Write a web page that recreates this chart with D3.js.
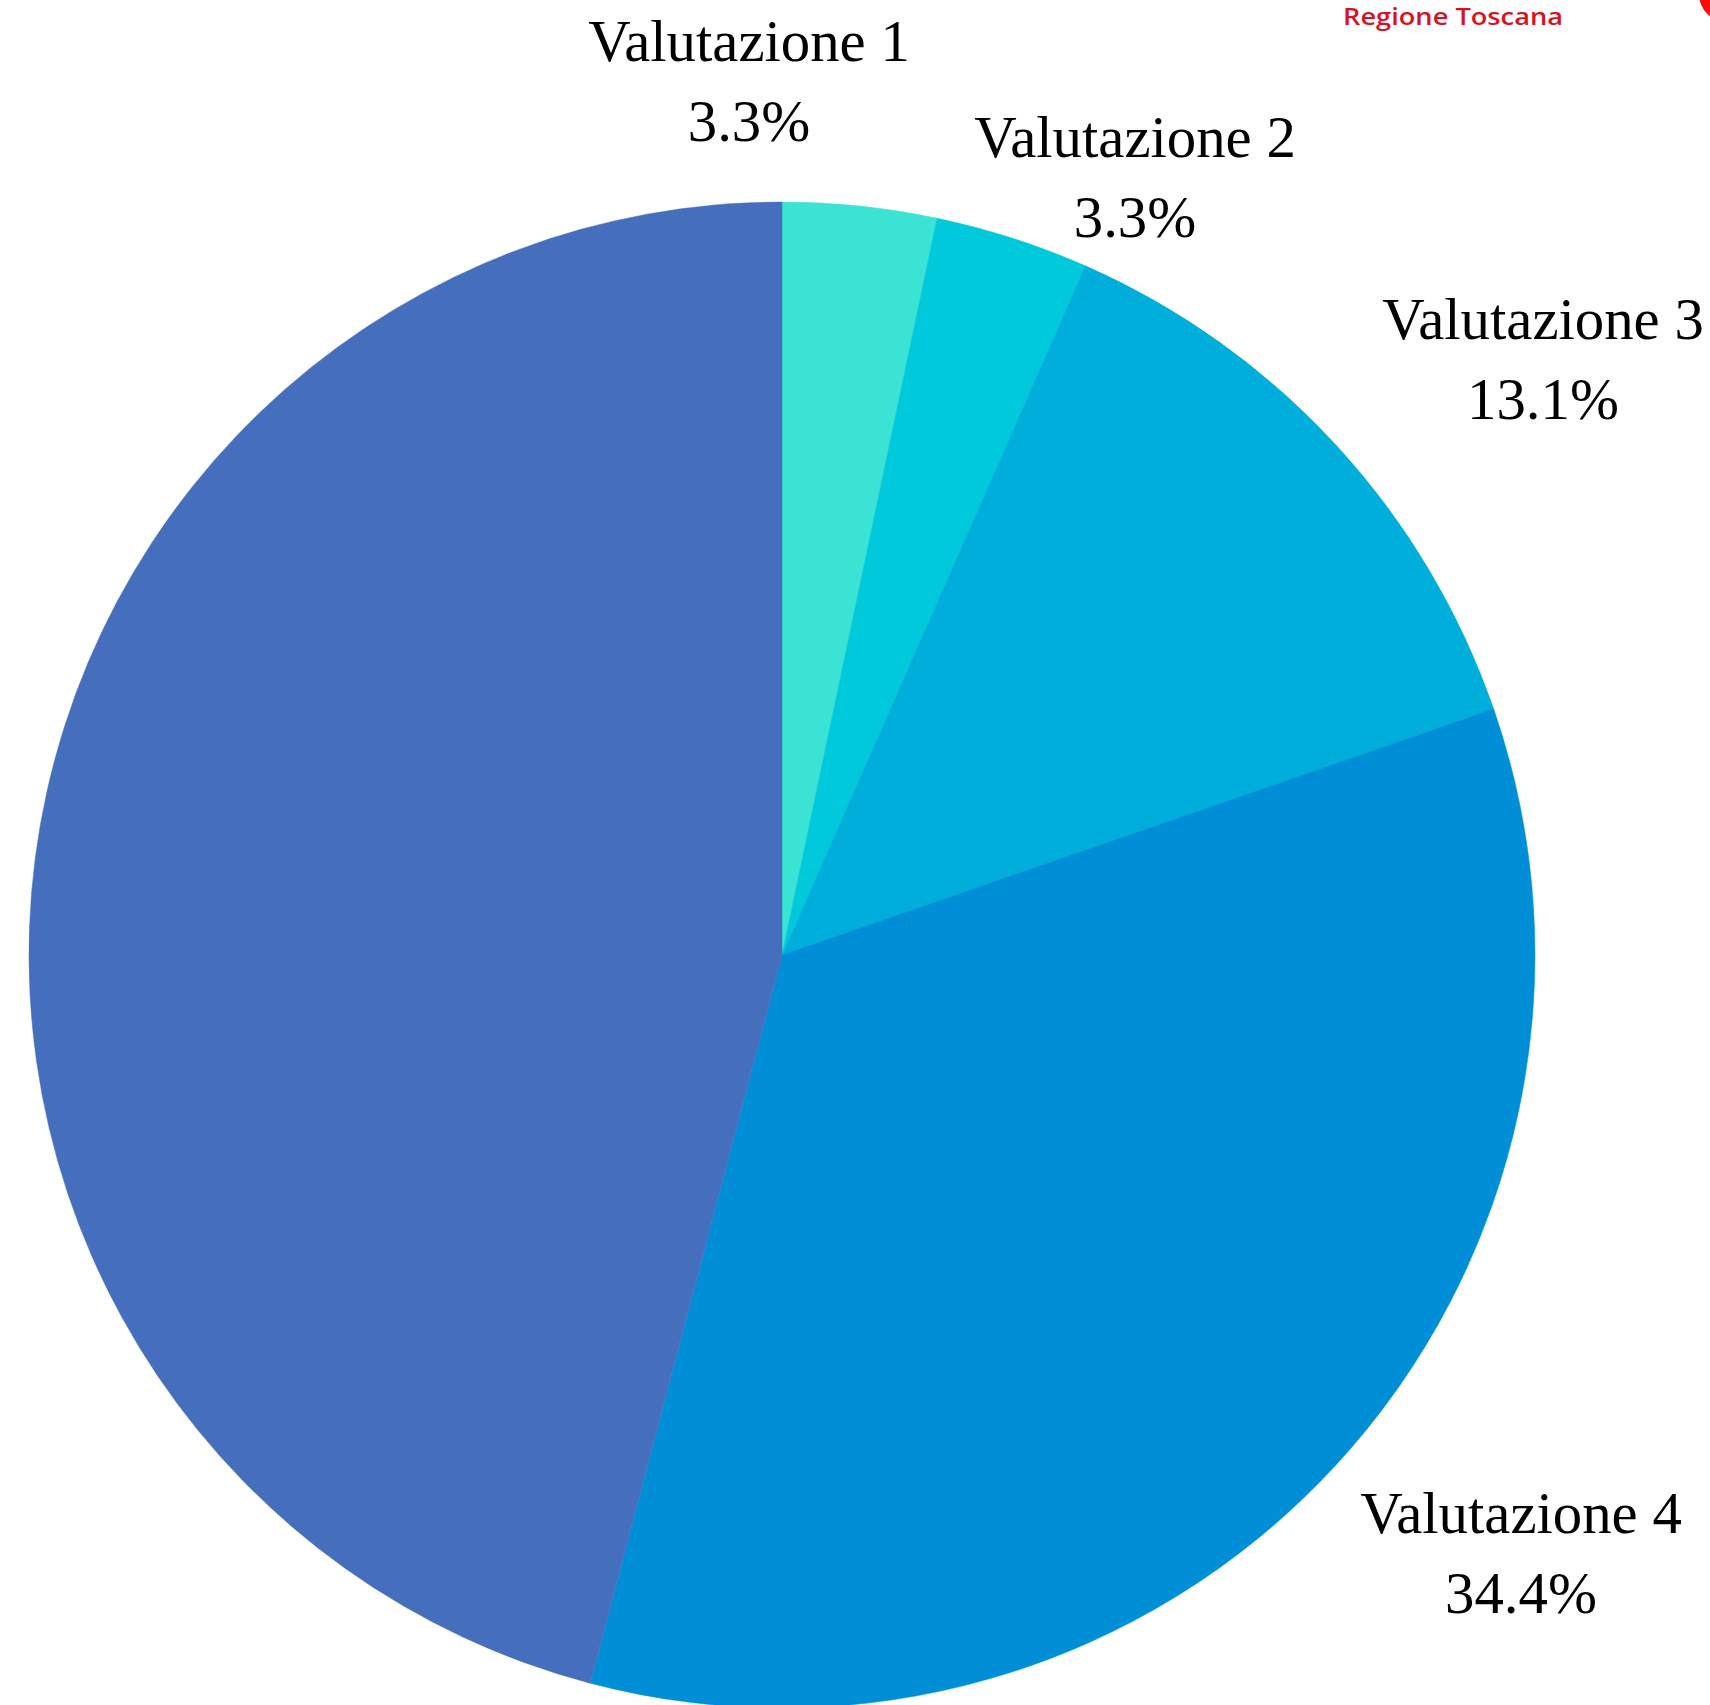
<!DOCTYPE html>
<html>
<head>
<meta charset="utf-8">
<script src="https://cdn.jsdelivr.net/npm/d3@7"></script>
<style>
  html, body { margin: 0; padding: 0; background: #fff; overflow: hidden; }
</style>
</head>
<body>
<div id="chart"></div>
<script>
// data
const categories = ['Valutazione 1', 'Valutazione 2', 'Valutazione 3', 'Valutazione 4', 'Valutazione 5'];
const shares = [3.3, 3.3, 13.1, 34.4, 45.9];
const sliceColors = ['#3BE3D4', '#00C9DB', '#00AEDC', '#008ED6', '#456FBD'];
// which slices carry a visible label (the 5th one falls outside the picture)
const labelled = [true, true, true, true, false];
// label anchor (centre x, first baseline y) for each labelled slice
const labelAnchors = [[749, 61], [1135, 157], [1543, 339], [1521, 1533]];

const width = 1710, height = 1705;
const cx = 782, cy = 955, radius = 753;

const svg = d3.select('#chart')
    .append('svg')
    .attr('width', width)
    .attr('height', height);

const graph = svg.append('g')
    .attr('transform', `translate(${cx}, ${cy})`);

const pie = d3.pie()
    .sort(null)
    .value(d => d.value);

const arc = d3.arc()
    .innerRadius(0)
    .outerRadius(radius);

const data = categories.map((c, i) => ({name: c, value: shares[i], color: sliceColors[i]}));
const arcs = pie(data);

graph.selectAll('path')
    .data(arcs)
    .enter()
    .append('path')
    .attr('d', arc)
    .attr('fill', d => d.data.color)
    .attr('stroke', d => d.data.color)
    .attr('stroke-width', 0.5);

// labels: name on one line, percentage below
const labels = svg.append('g').attr('class', 'labels');
let k = 0;
arcs.forEach((a, i) => {
    if (!labelled[i]) return;
    const [lx, ly] = labelAnchors[k++];
    const g = labels.append('g')
        .attr('transform', `translate(${lx}, ${ly}) scale(0.98, 1)`);
    g.append('text')
        .attr('text-anchor', 'middle')
        .style('font-family', '"Liberation Serif", "Times New Roman", serif')
        .style('font-size', '60px')
        .attr('fill', '#000')
        .text(a.data.name);
    g.append('text')
        .attr('y', 80)
        .attr('text-anchor', 'middle')
        .style('font-family', '"Liberation Serif", "Times New Roman", serif')
        .style('font-size', '60px')
        .attr('fill', '#000')
        .text(d3.format('.1f')(a.data.value) + '%');
});

// logo fragment in the top right corner
svg.append('text')
    .attr('x', 1343)
    .attr('y', 25)
    .attr('textLength', 220)
    .attr('lengthAdjust', 'spacingAndGlyphs')
    .style('font-family', '"Open Sans", sans-serif')
    .style('font-weight', 600)
    .style('font-size', '24px')
    .attr('fill', '#D9121F')
    .text('Regione Toscana');

svg.append('circle')
    .attr('cx', 1727)
    .attr('cy', -6)
    .attr('r', 28)
    .attr('fill', '#FF0A0A');
</script>
</body>
</html>
